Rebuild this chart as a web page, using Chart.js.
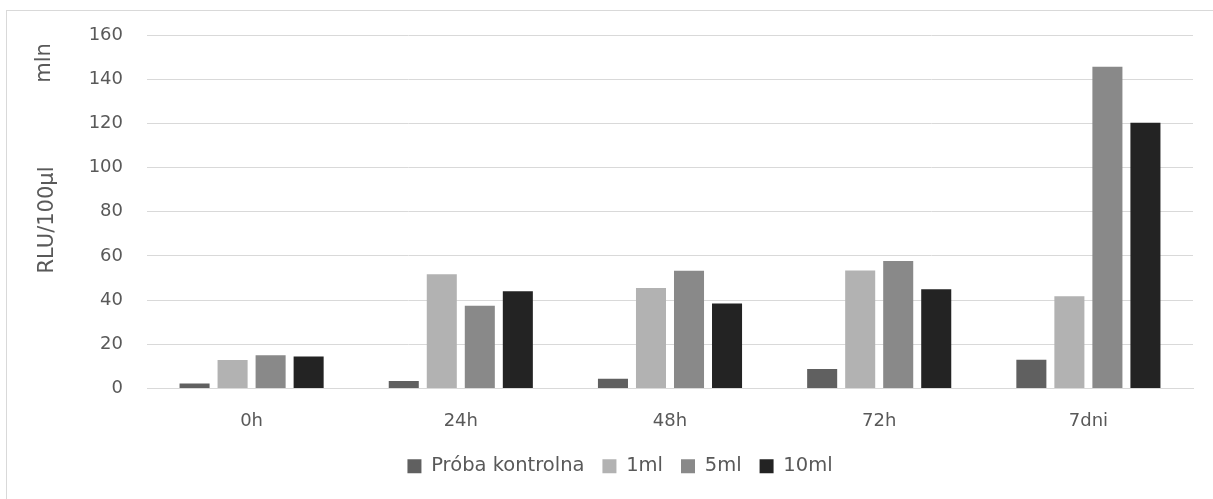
<!DOCTYPE html>
<html lang="pl">
<head>
<meta charset="utf-8">
<title>RLU/100µl</title>
<script src="https://cdn.jsdelivr.net/npm/chart.js@4/dist/chart.umd.min.js"></script>
<style>
  html, body { margin: 0; padding: 0; background: #ffffff; overflow: hidden; }
  #cadre {
    position: absolute; left: 6px; top: 10px; width: 1240px; height: 520px;
    border: 1px solid #d9d9d9; box-sizing: border-box;
  }
  #conteneur { position: absolute; left: 0; top: 0; width: 1213px; height: 499px; }
</style>
</head>
<body>
<div id="cadre"></div>
<div id="conteneur"><canvas id="graphRlu"></canvas></div>
<script>
// Données (RLU/100µl, en mln)
const A_categories = ["0h", "24h", "48h", "72h", "7dni"];
const A_controle = [2.3, 3.4, 4.4, 8.8, 13.0];
const A_1ml = [12.9, 51.7, 45.5, 53.4, 41.7];
const A_5ml = [15.0, 37.5, 53.3, 57.7, 145.6];
const A_10ml = [14.5, 44.0, 38.5, 44.9, 120.3];
const A_yTicks = [0, 20, 40, 60, 80, 100, 120, 140, 160];

const S_font = "'DejaVu Sans', 'Liberation Sans', sans-serif";
const S_texte = "#595959";
const S_grille = "#d9d9d9";

/**
 * Dessine les titres de l'axe vertical ("mln" et "RLU/100µl").
 */
const O_titresAxe = {
  id: "titresAxe",
  afterDraw(O_chart) {
    const O_ctx = O_chart.ctx;
    O_ctx.save();
    O_ctx.fillStyle = S_texte;
    O_ctx.font = "21px " + S_font;
    O_ctx.textAlign = "center";
    O_ctx.textBaseline = "middle";
    [["mln", 45, 63], ["RLU/100µl", 48, 220]].forEach(([S_txt, I_x, I_y]) => {
      O_ctx.save();
      O_ctx.translate(I_x, I_y);
      O_ctx.rotate(-Math.PI / 2);
      O_ctx.fillText(S_txt, 0, 0);
      O_ctx.restore();
    });
    O_ctx.restore();
  },
};

function F_dataset(S_label, A_data, S_couleur) {
  return {
    label: S_label,
    data: A_data,
    backgroundColor: S_couleur,
    borderWidth: 0,
    categoryPercentage: 0.727,
    barPercentage: 0.79,
  };
}

const O_ctx = document.getElementById("graphRlu").getContext("2d");
new Chart(O_ctx, {
  type: "bar",
  data: {
    labels: A_categories,
    datasets: [
      F_dataset("Próba kontrolna", A_controle, "#606060"),
      F_dataset("1ml", A_1ml, "#b2b2b2"),
      F_dataset("5ml", A_5ml, "#898989"),
      F_dataset("10ml", A_10ml, "#232323"),
    ],
  },
  options: {
    responsive: true,
    maintainAspectRatio: false,
    animation: false,
    layout: { padding: { left: 47, right: 20, top: 35, bottom: 13 } },
    plugins: {
      tooltip: { enabled: false },
      legend: {
        position: "bottom",
        labels: {
          color: S_texte,
          font: { family: S_font, size: 19.5 },
          boxWidth: 14,
          boxHeight: 14,
          padding: 18,
        },
      },
    },
    scales: {
      x: {
        grid: { display: false, drawTicks: false },
        border: { color: S_grille, width: 1 },
        ticks: {
          color: S_texte,
          font: { family: S_font, size: 18 },
          padding: 22,
          maxRotation: 0,
        },
        afterFit(O_scale) {
          O_scale.height = 50;
        },
      },
      y: {
        min: 0,
        max: 160,
        afterBuildTicks(O_scale) {
          O_scale.ticks = A_yTicks.map((I_v) => ({ value: I_v }));
        },
        grid: { color: S_grille, lineWidth: 1, drawTicks: false },
        border: { display: false },
        ticks: {
          color: S_texte,
          font: { family: S_font, size: 18 },
          padding: 24,
        },
        afterFit(O_scale) {
          O_scale.width = 100;
        },
      },
    },
  },
  plugins: [O_titresAxe],
});
</script>
</body>
</html>
